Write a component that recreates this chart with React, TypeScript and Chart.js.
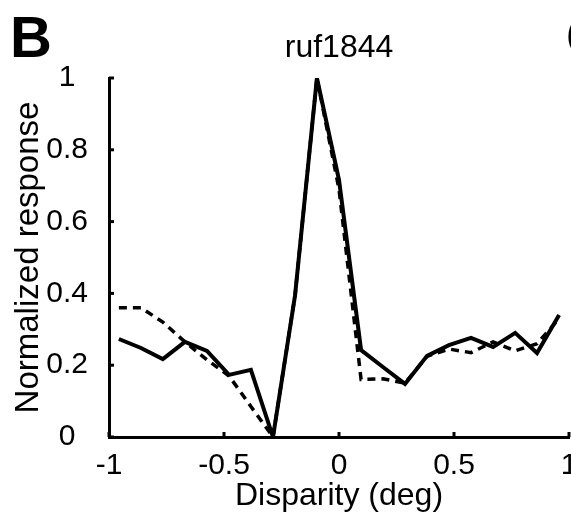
import React, { useEffect, useRef } from "react";
import { Chart, registerables } from "chart.js";

Chart.register(...registerables);

const disparity = [-0.957, -0.861, -0.766, -0.67, -0.574, -0.478, -0.383, -0.287, -0.191, -0.096, 0, 0.096, 0.191, 0.287, 0.383, 0.478, 0.574, 0.67, 0.766, 0.861, 0.957];
const measuredResponse = [0.273, 0.248, 0.217, 0.265, 0.24, 0.173, 0.187, 0, 0.395, 1.0, 0.716, 0.242, 0.195, 0.148, 0.226, 0.256, 0.276, 0.251, 0.29, 0.234, 0.34];
const dashedResponse = [0.36, 0.36, 0.32, 0.265, 0.215, 0.17, 0.085, 0, 0.395, 1.0, 0.69, 0.16, 0.162, 0.15, 0.225, 0.245, 0.235, 0.265, 0.24, 0.26, 0.33];
const xTicks = [-1, -0.5, 0, 0.5, 1];
const yTicks = [0, 0.2, 0.4, 0.6, 0.8, 1];

const panelLabel = "B";
const nextPanelLabel = "C";
const chartTitle = "ruf1844";
const xTitle = "Disparity (deg)";
const yTitle = "Normalized response";

const FONT = "'Liberation Sans', Arial, Helvetica, sans-serif";
const CANVAS_W = 620;
const CANVAS_H = 520;

const decorPlugin = {
  id: "decor",
  afterDraw(chart: any) {
    const ctx = chart.ctx;
    const area = chart.chartArea;
    const xs = chart.scales.x;
    const ys = chart.scales.y;
    ctx.save();
    // inward tick marks
    ctx.strokeStyle = "#000";
    ctx.lineWidth = 3;
    ctx.lineCap = "butt";
    xTicks.forEach((v) => {
      const px = xs.getPixelForValue(v);
      ctx.beginPath();
      ctx.moveTo(px, area.bottom);
      ctx.lineTo(px, area.bottom - 5);
      ctx.stroke();
    });
    yTicks.forEach((v) => {
      const py = ys.getPixelForValue(v);
      ctx.beginPath();
      ctx.moveTo(area.left, py);
      ctx.lineTo(area.left + 5, py);
      ctx.stroke();
    });
    // texts
    ctx.fillStyle = "#000";
    ctx.textBaseline = "alphabetic";
    ctx.font = `bold 58px ${FONT}`;
    ctx.textAlign = "left";
    ctx.fillText(panelLabel, 10, 57);
    ctx.fillText(nextPanelLabel, 566, 57);
    ctx.font = `32px ${FONT}`;
    ctx.textAlign = "center";
    ctx.fillText(chartTitle, (area.left + area.right) / 2, 57);
    ctx.restore();
  },
};

export default function App() {
  const ref = useRef<HTMLCanvasElement | null>(null);
  useEffect(() => {
    if (!ref.current) return;
    const chart = new Chart(ref.current, {
      type: "line",
      data: {
        datasets: [
          {
            label: "measured",
            data: disparity.map((x, i) => ({ x, y: measuredResponse[i] })),
            borderColor: "#000",
            borderWidth: 4,
            pointRadius: 0,
            fill: false,
            tension: 0,
          },
          {
            label: "dashed",
            data: disparity.map((x, i) => ({ x, y: dashedResponse[i] })),
            borderColor: "#000",
            borderWidth: 3.5,
            borderDash: [8, 6],
            pointRadius: 0,
            fill: false,
            tension: 0,
          },
        ],
      },
      options: {
        responsive: false,
        animation: false,
        devicePixelRatio: 1,
        layout: { padding: { top: 78, right: CANVAS_W - 569, left: 0, bottom: 0 } },
        plugins: {
          legend: { display: false },
          title: { display: false },
          tooltip: { enabled: false },
        },
        scales: {
          x: {
            type: "linear",
            min: -1,
            max: 1,
            afterFit: (s: any) => {
              s.height = 83;
            },
            afterBuildTicks: (s: any) => {
              s.ticks = xTicks.map((v) => ({ value: v }));
            },
            grid: { display: false },
            border: { display: true, color: "#000", width: 3 },
            ticks: {
              color: "#000",
              font: { family: FONT, size: 30 },
              padding: 3,
              maxRotation: 0,
              autoSkip: false,
              callback: (v: any) => String(v),
            },
            title: {
              display: true,
              text: xTitle,
              color: "#000",
              font: { family: FONT, size: 32 },
              padding: { top: 0, bottom: 5 },
            },
          },
          y: {
            type: "linear",
            min: 0,
            max: 1,
            afterFit: (s: any) => {
              s.width = 109;
            },
            afterBuildTicks: (s: any) => {
              s.ticks = yTicks.map((v) => ({ value: v }));
            },
            grid: { display: false },
            border: { display: true, color: "#000", width: 3 },
            ticks: {
              color: "#000",
              font: { family: FONT, size: 30 },
              padding: 13,
              crossAlign: "center",
              autoSkip: false,
              callback: (v: any) => String(v),
            },
            title: {
              display: true,
              text: yTitle,
              color: "#000",
              font: { family: FONT, size: 33 },
              padding: { top: 9, bottom: 0 },
            },
          },
        },
      },
      plugins: [decorPlugin],
    });
    return () => chart.destroy();
  }, []);
  return (
    <div
      style={{
        position: "fixed",
        left: 0,
        top: 0,
        width: 571,
        height: 520,
        overflow: "hidden",
        background: "#fff",
      }}
    >
      <canvas ref={ref} width={CANVAS_W} height={CANVAS_H} style={{ display: "block" }} />
    </div>
  );
}
